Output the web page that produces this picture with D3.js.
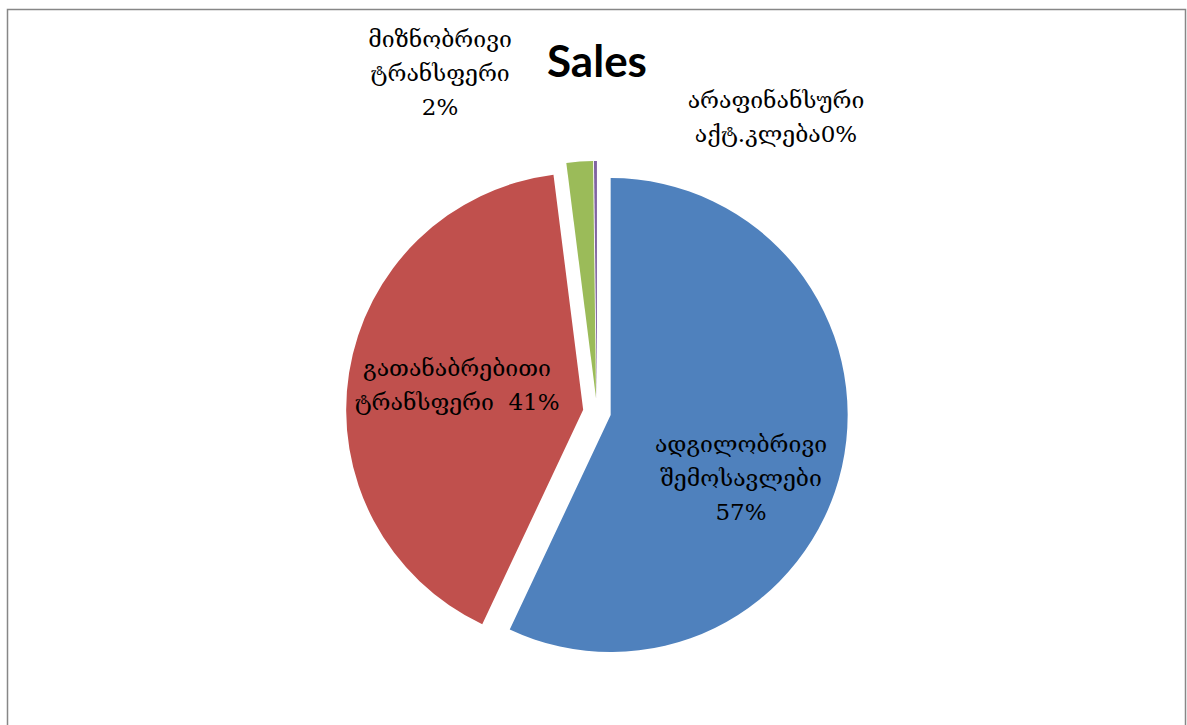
<!DOCTYPE html>
<html><head><meta charset="utf-8">
<script src="https://cdn.jsdelivr.net/npm/d3@7/dist/d3.min.js"></script>
<style>
html,body{margin:0;padding:0;background:#fff;overflow:hidden;}
</style></head>
<body><svg id="c" width="1187" height="725"></svg>
<script>
const title = "Sales";
const categories = ["ადგილობრივი შემოსავლები", "გათანაბრებითი ტრანსფერი", "მიზნობრივი ტრანსფერი", "არაფინანსური აქტ.კლება"];
const values = [57.0, 41.0, 1.8, 0.2];
const percentLabels = ["57%", "41%", "2%", "0%"];
const labelLines = [
  ["ადგილობრივი", "შემოსავლები", "57%"],
  ["გათანაბრებითი", "ტრანსფერი\u00a0\u00a041%"],
  ["მიზნობრივი", "ტრანსფერი", "2%"],
  ["არაფინანსური", "აქტ.კლება0%"]
];
const colors = ["#4F81BD", "#C0504D", "#9BBB59", "#8064A2"];

// layout
const W = 1187, H = 725;
const cx = 597, cy = 412, R = 237, explode = 14;
const labelAnchor = [[741, 452], [457, 376], [440, 47], [776, 108]];
const lineH = 34;
const fontGeo = "'DejaVu Serif', 'Liberation Serif', serif";

const svg = d3.select("#c");
svg.append("rect").attr("x", 7.5).attr("y", 9.5).attr("width", 1178).attr("height", 740)
  .attr("fill", "#fff").attr("stroke", "#878787").attr("stroke-width", 1.5);

const pie = d3.pie().sort(null).value(d => d)(values);
const arc = d3.arc().innerRadius(0).outerRadius(R);

const g = svg.append("g").attr("transform", `translate(${cx},${cy})`);
g.selectAll("path").data(pie).join("path")
  .attr("d", arc)
  .attr("fill", (d, i) => colors[i])
  .attr("transform", d => {
    const a = (d.startAngle + d.endAngle) / 2;
    return `translate(${explode * Math.sin(a)},${-explode * Math.cos(a)})`;
  });

svg.append("text").attr("x", 597).attr("y", 77).attr("text-anchor", "middle")
  .attr("font-family", "Lato, 'Open Sans', sans-serif").attr("font-weight", "bold")
  .attr("font-size", 44).attr("fill", "#000").text(title);

labelLines.forEach((lines, i) => {
  const t = svg.append("text").attr("text-anchor", "middle")
    .attr("font-family", fontGeo).attr("font-size", 23).attr("fill", "#000");
  lines.forEach((l, j) => {
    t.append("tspan").attr("x", labelAnchor[i][0]).attr("y", labelAnchor[i][1] + j * lineH).text(l);
  });
});
</script></body></html>
